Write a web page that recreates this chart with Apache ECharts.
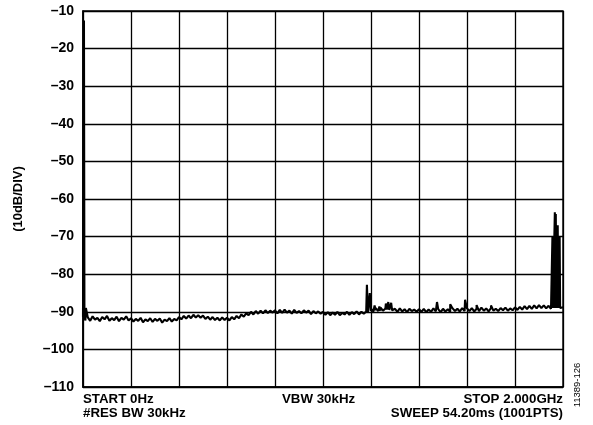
<!DOCTYPE html>
<html>
<head>
<meta charset="utf-8">
<script src="https://cdn.jsdelivr.net/npm/echarts@6/dist/echarts.min.js"></script>
<style>
html,body{margin:0;padding:0;background:#fff;}
#c{width:593px;height:425px;}
</style>
</head>
<body>
<div id="c"></div>
<script>
// Frequency axis (MHz) and level axis (dBm)
const freqStartMHz = 0;
const freqStopMHz = 2000;
const traceStepMHz = 10;
const levelTicks = [-10, -20, -30, -40, -50, -60, -70, -80, -90, -100, -110];

// Noise floor trace, one value every 10 MHz from 0 to 2000 MHz
const noiseDb = [
  -91.3,-92.3,-91.5,-92.4,-91.2,-92.1,-91.6,-92.5,-91.4,-92.0,-91.1,-92.4,-91.7,-92.2,-91.3,-92.5,-91.6,-92.1,-91.2,-92.3,
  -91.7,-92.6,-91.9,-92.4,-91.6,-92.8,-92.0,-92.5,-91.7,-92.7,-91.9,-92.4,-91.8,-92.9,-92.1,-92.5,-91.7,-92.6,-91.9,-92.3,
  -91.4,-92.0,-91.1,-91.8,-91.0,-91.7,-90.8,-91.5,-90.9,-91.6,-91.0,-91.9,-91.3,-92.1,-91.4,-92.2,-91.6,-92.3,-91.5,-92.2,
  -91.6,-92.3,-91.4,-92.0,-91.1,-91.7,-90.7,-91.3,-90.4,-90.9,-90.0,-90.7,-89.8,-90.5,-89.7,-90.4,-89.6,-90.3,-89.7,-90.2,
  -89.6,-90.4,-89.5,-90.3,-89.4,-90.2,-89.7,-90.5,-89.5,-90.3,-89.8,-90.4,-89.6,-90.2,-89.7,-90.6,-89.8,-90.4,-89.9,-90.5,
  -90.0,-90.8,-90.1,-90.9,-90.2,-90.8,-90.0,-90.9,-90.3,-90.7,-90.0,-90.8,-90.1,-90.6,-89.9,-90.7,-90.0,-90.5,-89.9,-90.4,
  -89.2,-89.9,-89.0,-89.8,-88.9,-89.7,-89.1,-89.9,-89.0,-89.8,-89.2,-90.0,-89.1,-89.9,-89.3,-90.1,-89.2,-89.8,-89.4,-90.0,
  -89.3,-90.0,-89.2,-90.1,-89.4,-90.0,-89.1,-89.9,-89.3,-90.1,-89.2,-89.9,-89.3,-90.0,-89.1,-89.8,-89.2,-89.9,-89.0,-89.8,
  -89.1,-89.8,-89.0,-89.9,-89.2,-89.8,-88.9,-89.7,-89.1,-89.9,-89.0,-89.7,-89.2,-89.8,-89.0,-89.6,-88.9,-89.7,-89.1,-89.6,
  -88.8,-89.5,-88.7,-89.4,-88.5,-89.3,-88.4,-89.2,-88.3,-89.1,-88.2,-89.0,-88.3,-89.1,-88.4,-89.2,-88.5,-89.3,-88.6,-89.2,
  -88.8
];

// Narrow spurs [MHz, dBm]
const spurs = [
  [4, -12.5], [5, -12.5], [6, -91.5], [12, -89.0],
  [1183, -82.8], [1187, -90.2], [1195, -85.0], [1199, -89.8],
  [1215, -88.3], [1219, -89.6], [1235, -88.6], [1239, -89.7],
  [1262, -87.8], [1266, -89.4], [1272, -87.4], [1276, -89.5], [1284, -87.6], [1288, -89.6],
  [1475, -87.4], [1530, -88.0], [1592, -86.8], [1640, -88.2], [1700, -88.3],
  [1956, -70.0], [1958, -89.0], [1960, -70.0], [1962, -89.0], [1964, -70.0],
  [1966, -63.5], [1968, -89.0], [1970, -64.0], [1972, -89.0], [1974, -67.0],
  [1976, -89.0], [1978, -67.0], [1980, -89.0], [1982, -70.0], [1984, -89.0],
  [1986, -70.0], [1988, -89.0]
];

const footerLeft = ['START 0Hz', '#RES BW 30kHz'];
const footerMid = 'VBW 30kHz';
const footerRight = ['STOP 2.000GHz', 'SWEEP 54.20ms (1001PTS)'];
const yTitle = '(10dB/DIV)';
const figId = '11389-126';

const trace = noiseDb.map((v, i) => [freqStartMHz + i * traceStepMHz, v])
  .concat(spurs.map(p => [p[0], p[1]]))
  .sort((a, b) => a[0] - b[0]);

const chart = echarts.init(document.getElementById('c'), null, {renderer: 'canvas'});
const FF = '"Liberation Sans", Arial, Helvetica, sans-serif';
const txt = (text, x, y, align) => ({
  type: 'text', x: x, y: y,
  style: {text: text, fill: '#000', font: 'bold 13.3px ' + FF, textAlign: align || 'left', textVerticalAlign: 'top'}
});

chart.setOption({
  animation: false,
  backgroundColor: '#fff',
  grid: {left: 83, right: 30, top: 11, bottom: 38, show: true, borderColor: '#000', borderWidth: 1.4, backgroundColor: 'transparent'},
  xAxis: {
    type: 'value', min: freqStartMHz, max: freqStopMHz, interval: 200,
    axisLabel: {show: false}, axisTick: {show: false},
    axisLine: {show: true, lineStyle: {color: '#000', width: 1.6}},
    splitLine: {show: true, lineStyle: {color: '#000', width: 1.3}}
  },
  yAxis: {
    type: 'value', min: levelTicks[levelTicks.length - 1], max: levelTicks[0], interval: 10,
    name: yTitle, nameLocation: 'middle', nameGap: 58, nameRotate: 90,
    nameTextStyle: {color: '#000', fontWeight: 'bold', fontSize: 13, fontFamily: FF},
    axisLabel: {color: '#000', fontWeight: 'bold', fontSize: 14, fontFamily: FF, margin: 9,
      formatter: v => (v < 0 ? '\u2013' + Math.abs(v) : String(v))},
    axisTick: {show: false},
    axisLine: {show: true, lineStyle: {color: '#000', width: 1.6}},
    splitLine: {show: true, lineStyle: {color: '#000', width: 1.3}}
  },
  series: [{
    type: 'line', data: trace, showSymbol: false, symbol: 'none', clip: false,
    lineStyle: {color: '#000', width: 2.1}, z: 5
  }],
  graphic: [
    txt(footerLeft[0], 83, 393),
    txt(footerLeft[1], 83, 407),
    txt(footerMid, 282, 393),
    txt(footerRight[0], 563, 393, 'right'),
    txt(footerRight[1], 563, 407, 'right'),
    {type: 'text', x: 577, y: 385, rotation: Math.PI / 2,
     style: {text: figId, fill: '#000', font: '9.5px ' + FF, textAlign: 'center', textVerticalAlign: 'middle'}}
  ]
});
</script>
</body>
</html>
